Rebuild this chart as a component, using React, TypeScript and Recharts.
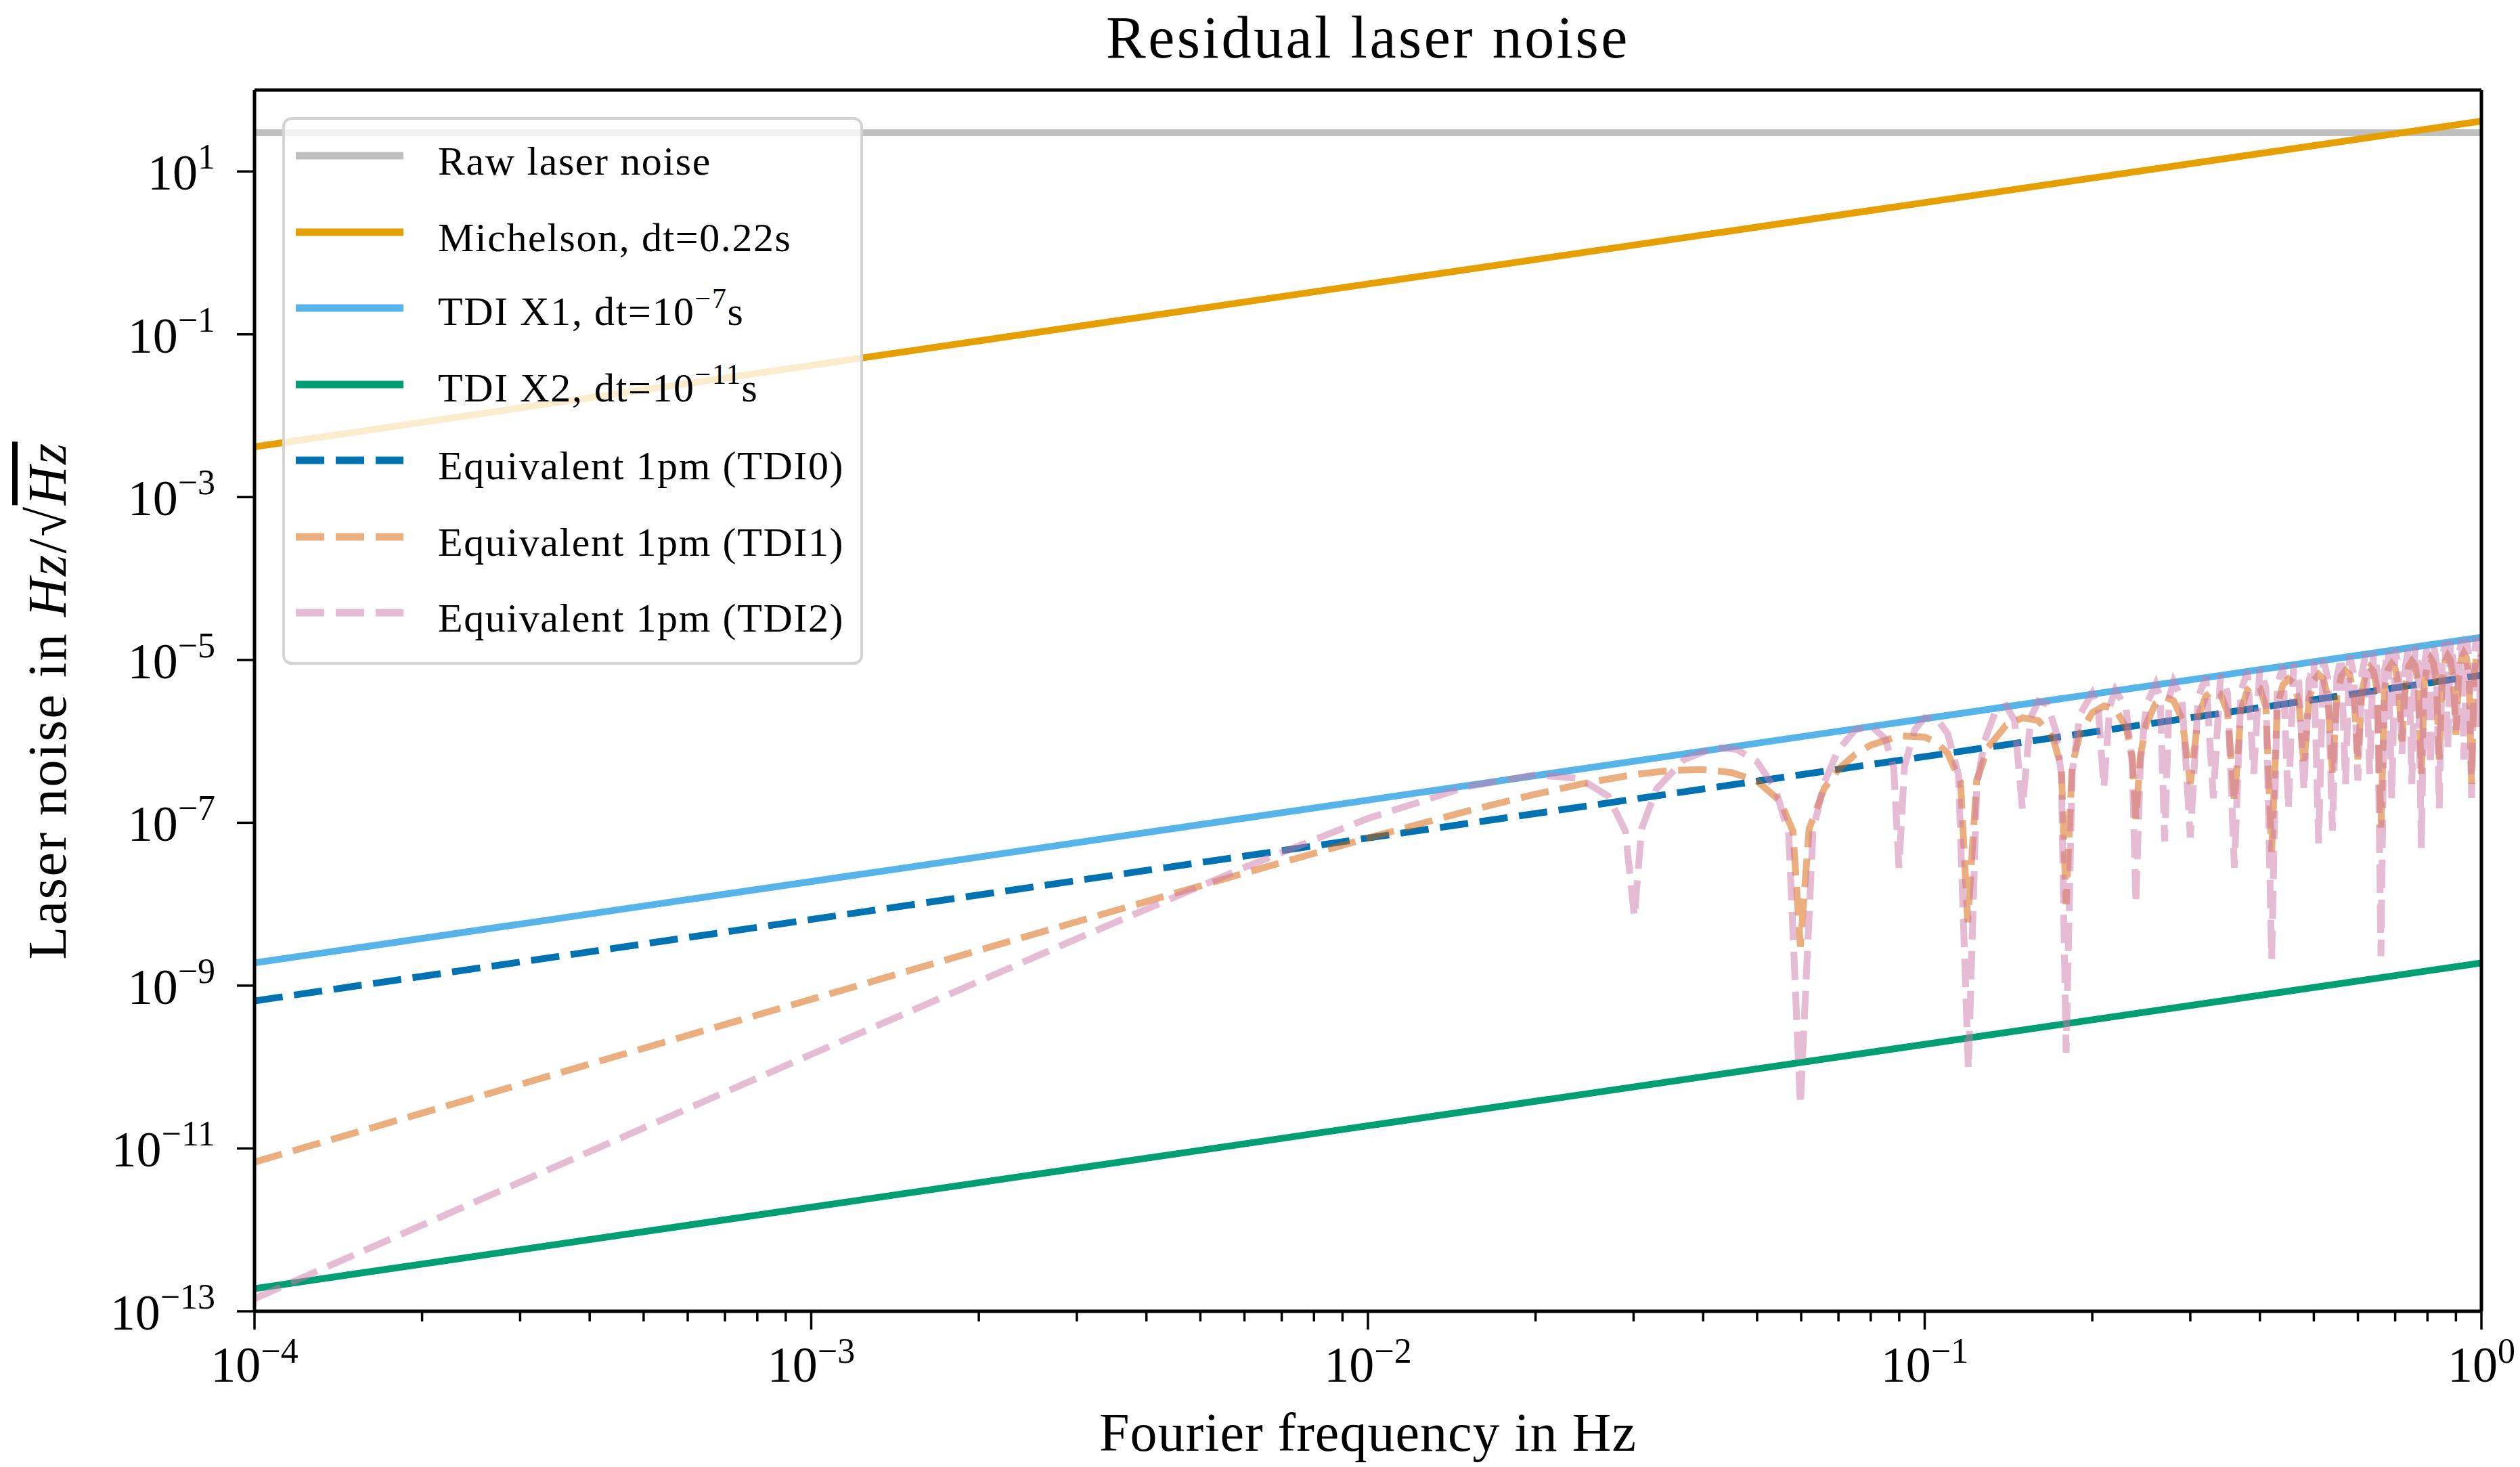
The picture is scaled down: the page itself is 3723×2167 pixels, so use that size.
import React from "react";
import { LineChart, Line, XAxis, YAxis, Legend, ReferenceLine } from "recharts";

const W = 3723;
const H = 2167;
const FONT = '"Liberation Serif", "DejaVu Serif", serif';

// straight power laws, read at the two ends of the frequency axis
const edgeFreqs = [1e-4, 1];
const rawNoise = [30, 30];
const michelson = [4.15e-3, 41.5];
const tdiX1 = [1.9e-9, 1.9e-5];
const tdiX2 = [1.9e-13, 1.9e-9];
const equivTdi0 = [6.5e-10, 6.5e-6];

const tdi1Freqs = [
  0.0001, 0.001, 0.003, 0.006, 0.01, 0.015, 0.02, 0.025, 0.03, 0.035,
  0.04, 0.045, 0.05, 0.055, 0.058, 0.0598, 0.062, 0.066, 0.07, 0.075,
  0.08, 0.09, 0.1, 0.105, 0.11, 0.116, 0.1195, 0.124, 0.13, 0.14,
  0.15, 0.16, 0.17, 0.176, 0.1795, 0.184, 0.19, 0.2, 0.21, 0.22,
  0.23, 0.236, 0.2395, 0.244, 0.25, 0.26, 0.27, 0.28, 0.29, 0.3,
  0.31, 0.32, 0.33, 0.34, 0.35, 0.36, 0.37, 0.38, 0.39, 0.4,
  0.41, 0.42, 0.43, 0.44, 0.45, 0.46, 0.47, 0.48, 0.49, 0.5,
  0.51, 0.52, 0.53, 0.54, 0.55, 0.56, 0.57, 0.58, 0.59, 0.6,
  0.61, 0.62, 0.63, 0.64, 0.65, 0.66, 0.67, 0.68, 0.69, 0.7,
  0.71, 0.72, 0.73, 0.74, 0.75, 0.76, 0.77, 0.78, 0.79, 0.8,
  0.81, 0.82, 0.83, 0.84, 0.85, 0.86, 0.87, 0.88, 0.89, 0.9,
  0.91, 0.92, 0.93, 0.94, 0.95, 0.96, 0.97, 0.98, 0.99, 1.0,
];
const equivTdi1 = [
  6.8e-12, 6.8e-10, 6.1e-9, 2.41e-8, 6.5e-8, 1.38e-7, 2.25e-7, 3.14e-7, 3.9e-7, 4.39e-7,
  4.5e-7, 4.14e-7, 3.25e-7, 1.85e-7, 7.9e-8, 3e-9, 8.4e-8, 2.65e-7, 4.55e-7, 6.9e-7,
  9.0e-7, 1.17e-6, 1.13e-6, 9.65e-7, 7.15e-7, 3.14e-7, 6e-9, 3.35e-7, 8.45e-7, 1.58e-6,
  1.95e-6, 1.8e-6, 1.1e-6, 4.76e-7, 1e-8, 4.97e-7, 1.24e-6, 2.25e-6, 2.73e-6, 2.48e-6,
  1.5e-6, 6.4e-7, 1.1e-7, 6.6e-7, 1.63e-6, 2.93e-6, 3.51e-6, 3.15e-6, 1.89e-6, 3e-7,
  2.02e-6, 3.6e-6, 4.29e-6, 3.83e-6, 2.28e-6, 1.8e-7, 2.41e-6, 4.28e-6, 5.07e-6, 4.5e-6,
  2.67e-6, 4.4e-8, 2.8e-6, 4.95e-6, 5.85e-6, 5.18e-6, 3.06e-6, 5e-7, 3.19e-6, 5.63e-6,
  6.63e-6, 5.86e-6, 3.45e-6, 4e-7, 3.58e-6, 6.31e-6, 7.41e-6, 6.53e-6, 3.84e-6, 6e-7,
  3.97e-6, 6.98e-6, 8.19e-6, 7.21e-6, 4.23e-6, 8.7e-8, 4.36e-6, 7.66e-6, 8.97e-6, 7.88e-6,
  4.62e-6, 1e-6, 4.75e-6, 8.33e-6, 9.75e-6, 8.56e-6, 5.01e-6, 4e-7, 5.14e-6, 9.01e-6,
  1.05e-5, 9.23e-6, 5.4e-6, 6e-7, 5.53e-6, 9.68e-6, 1.13e-5, 9.91e-6, 5.79e-6, 1.2e-6,
  5.92e-6, 1.04e-5, 1.21e-5, 1.06e-5, 6.18e-6, 3e-7, 6.31e-6, 1.1e-5, 1.29e-5, 1.13e-5,
];

const tdi2Freqs = [
  0.0001, 0.001, 0.003, 0.006, 0.01, 0.015, 0.02, 0.024, 0.027, 0.029,
  0.0301, 0.031, 0.033, 0.037, 0.042, 0.046, 0.05, 0.054, 0.057, 0.0598,
  0.063, 0.066, 0.07, 0.075, 0.08, 0.085, 0.088, 0.0899, 0.092, 0.096,
  0.1, 0.105, 0.11, 0.115, 0.1198, 0.124, 0.128, 0.134, 0.14, 0.145,
  0.1498, 0.155, 0.16, 0.166, 0.172, 0.176, 0.1795, 0.184, 0.19, 0.2,
  0.205, 0.2098, 0.215, 0.22, 0.23, 0.236, 0.2395, 0.244, 0.25, 0.26,
  0.265, 0.2698, 0.275, 0.28, 0.29, 0.3,
  0.31, 0.32, 0.33, 0.34, 0.35, 0.36, 0.37, 0.38, 0.39, 0.4,
  0.41, 0.42, 0.43, 0.44, 0.45, 0.46, 0.47, 0.48, 0.49, 0.5,
  0.51, 0.52, 0.53, 0.54, 0.55, 0.56, 0.57, 0.58, 0.59, 0.6,
  0.61, 0.62, 0.63, 0.64, 0.65, 0.66, 0.67, 0.68, 0.69, 0.7,
  0.71, 0.72, 0.73, 0.74, 0.75, 0.76, 0.77, 0.78, 0.79, 0.8,
  0.81, 0.82, 0.83, 0.84, 0.85, 0.86, 0.87, 0.88, 0.89, 0.9,
  0.91, 0.92, 0.93, 0.94, 0.95, 0.96, 0.97, 0.98, 0.99, 1.0,
];
const equivTdi2 = [
  1.43e-13, 1.43e-10, 3.77e-9, 2.83e-8, 1.13e-7, 2.76e-7, 3.9e-7, 3.49e-7, 2.14e-7, 7.9e-8,
  7e-9, 8.4e-8, 2.62e-7, 6.0e-7, 8.4e-7, 7.96e-7, 5.63e-7, 2.55e-7, 7.16e-8, 3.4e-11,
  7.9e-8, 3.12e-7, 7.9e-7, 1.38e-6, 1.56e-6, 1.07e-6, 4.73e-7, 2.8e-8, 4.95e-7, 1.4e-6,
  1.95e-6, 1.93e-6, 1.24e-6, 3.87e-7, 9.5e-11, 2.73e-7, 1.0e-6, 2.32e-6, 2.73e-6, 1.82e-6,
  1.5e-7, 1.95e-6, 3.12e-6, 2.87e-6, 1.35e-6, 3.87e-7, 1.5e-10, 4.04e-7, 2.14e-6, 3.9e-6,
  2.57e-6, 2.7e-7, 2.7e-6, 4.29e-6, 2.59e-6, 5.19e-7, 1e-8, 5.36e-7, 2.81e-6, 5.07e-6,
  3.33e-6, 5.9e-8, 3.45e-6, 5.46e-6, 3.26e-6, 6.6e-8,
  3.49e-6, 6.24e-6, 2e-7, 6.63e-6, 3.94e-6, 2.8e-8, 4.17e-6, 7.41e-6, 4e-7, 7.8e-6,
  4.62e-6, 2.1e-9, 4.84e-6, 8.58e-6, 1.5e-7, 8.97e-6, 5.29e-6, 2.5e-7, 5.52e-6, 9.75e-6,
  5.6e-8, 1.01e-5, 5.97e-6, 8e-8, 6.19e-6, 1.09e-5, 3e-7, 1.13e-5, 6.64e-6, 3.3e-7,
  6.87e-6, 1.21e-5, 4e-7, 1.25e-5, 7.32e-6, 2.3e-9, 7.54e-6, 1.33e-5, 2e-7, 1.37e-5,
  7.99e-6, 7e-7, 8.22e-6, 1.44e-5, 3e-7, 1.48e-5, 8.67e-6, 4.9e-8, 8.9e-6, 1.56e-5,
  5e-7, 1.6e-5, 9.35e-6, 1.5e-7, 9.57e-6, 1.68e-5, 8e-7, 1.72e-5, 1.0e-5, 1.3e-6,
  1.02e-5, 1.79e-5, 6e-7, 1.83e-5, 1.07e-5, 2e-7, 1.09e-5, 1.91e-5, 1.5e-6, 1.95e-5,
];

const xMajorTicks = [1e-4, 1e-3, 1e-2, 1e-1, 1];
const xMinorSteps = [2, 3, 4, 5, 6, 7, 8, 9];
const xTicks = [
  ...xMajorTicks,
  ...xMajorTicks.slice(0, 4).flatMap((d) => xMinorSteps.map((m) => m * d)),
].sort((a, b) => a - b);
const yTicks = [1e1, 1e-1, 1e-3, 1e-5, 1e-7, 1e-9, 1e-11, 1e-13];

const zip = (fs: number[], vs: number[]) => fs.map((f, i) => ({ f, v: vs[i] }));

const Sup = ({ children }: { children: React.ReactNode }) => (
  <span style={{ fontSize: "0.7em", position: "relative", top: "-0.6em" }}>{children}</span>
);

const SERIES = [
  { key: "raw", data: zip(edgeFreqs, rawNoise), color: "#bfbfbf", opacity: 1, dash: undefined, label: <>Raw laser noise</> },
  { key: "mich", data: zip(edgeFreqs, michelson), color: "#E69F00", opacity: 1, dash: undefined, label: <>Michelson, dt=0.22s</> },
  { key: "x1", data: zip(edgeFreqs, tdiX1), color: "#56B4E9", opacity: 1, dash: undefined, label: <>TDI X1, dt=10<Sup>−7</Sup>s</> },
  { key: "x2", data: zip(edgeFreqs, tdiX2), color: "#009E73", opacity: 1, dash: undefined, label: <>TDI X2, dt=10<Sup>−11</Sup>s</> },
  { key: "eq0", data: zip(edgeFreqs, equivTdi0), color: "#0072B2", opacity: 1, dash: "42 17", label: <>Equivalent 1pm (TDI0)</> },
  { key: "eq1", data: zip(tdi1Freqs, equivTdi1), color: "#D55E00", opacity: 0.5, dash: "42 17", label: <>Equivalent 1pm (TDI1)</> },
  { key: "eq2", data: zip(tdi2Freqs, equivTdi2), color: "#CC79A7", opacity: 0.5, dash: "42 17", label: <>Equivalent 1pm (TDI2)</> },
];

const exponent = (v: number) => {
  const e = Math.round(Math.log10(v));
  return e < 0 ? `−${-e}` : `${e}`;
};

const XTick = (p: any) => {
  const { x, y, payload } = p;
  const lg = Math.log10(payload.value);
  const major = Math.abs(lg - Math.round(lg)) < 1e-6;
  return (
    <g>
      <line x1={x} x2={x} y1={y} y2={y + (major ? 27 : 15)} stroke="#000" strokeWidth={3.5} />
      {major && (
        <text x={x} y={y + 104} textAnchor="middle" fontFamily={FONT} fontSize={74} fill="#000">
          10<tspan dy={-28} fontSize={52}>{exponent(payload.value)}</tspan>
        </text>
      )}
    </g>
  );
};

const YTick = (p: any) => {
  const { x, y, payload } = p;
  return (
    <g>
      <line x1={x - 26} x2={x} y1={y} y2={y} stroke="#000" strokeWidth={3.5} />
      <text x={x - 58} y={y + 27} textAnchor="end" fontFamily={FONT} fontSize={74} fill="#000">
        10<tspan dy={-31} fontSize={52}>{exponent(payload.value)}</tspan>
      </text>
    </g>
  );
};

const XLabel = (p: any) => {
  const { x, y, width } = p.viewBox;
  return (
    <text
      x={x + width / 2}
      y={y + 206}
      textAnchor="middle"
      fontFamily={FONT}
      fontSize={80}
      letterSpacing={1}
      fill="#000"
    >
      Fourier frequency in Hz
    </text>
  );
};

const YLabel = (p: any) => {
  const { x, y, height } = p.viewBox;
  return (
    <text
      transform={`translate(${x + 97}, ${y + height / 2}) rotate(-90)`}
      textAnchor="middle"
      fontFamily={FONT}
      fontSize={80}
      letterSpacing={2.5}
      fill="#000"
    >
      Laser noise in <tspan fontStyle="italic">Hz</tspan>/√
      <tspan fontStyle="italic" style={{ textDecoration: "overline" }}>Hz</tspan>
    </text>
  );
};

const LegendBox = () => (
  <div
    style={{
      position: "relative",
      width: "100%",
      height: "100%",
      boxSizing: "border-box",
      border: "4px solid #d4d4d4",
      borderRadius: 14,
      background: "rgba(255,255,255,0.8)",
      fontFamily: FONT,
      fontSize: 60,
      letterSpacing: 1.6,
      color: "#000",
    }}
  >
    {SERIES.map((s, i) => (
      <div
        key={s.key}
        style={{ position: "absolute", left: 0, top: 53 + i * 112.5 - 50, height: 100, width: "100%" }}
      >
        <svg width={180} height={100} style={{ position: "absolute", left: 0, top: 0 }}>
          <line
            x1={16}
            x2={175}
            y1={50}
            y2={50}
            stroke={s.color}
            strokeOpacity={s.opacity}
            strokeWidth={11}
            strokeDasharray={s.dash}
          />
        </svg>
        <div
          style={{
            position: "absolute",
            left: 226,
            top: 58,
            lineHeight: "60px",
            transform: "translateY(-50%)",
            whiteSpace: "nowrap",
          }}
        >
          {s.label}
        </div>
      </div>
    ))}
  </div>
);

export default function App() {
  return (
    <div style={{ position: "absolute", left: 0, top: 0, width: W, height: H, background: "#fff", fontFamily: FONT }}>
      <div
        style={{
          position: "absolute",
          left: 376,
          width: 3290,
          top: 12,
          textAlign: "center",
          fontSize: 88,
          letterSpacing: 3.5,
          lineHeight: "88px",
          color: "#000",
        }}
      >
        Residual laser noise
      </div>
      <LineChart width={W} height={H} margin={{ top: 133, right: 57, bottom: 0, left: 0 }}>
        <XAxis
          dataKey="f"
          type="number"
          scale="log"
          domain={[1e-4, 1]}
          allowDataOverflow
          ticks={xTicks}
          interval={0}
          height={230}
          tickLine={false}
          tickSize={0}
          tickMargin={0}
          tick={<XTick />}
          axisLine={{ stroke: "#000", strokeWidth: 5 }}
          label={{ content: <XLabel /> }}
        />
        <YAxis
          type="number"
          scale="log"
          domain={[1e-13, 100]}
          allowDataOverflow
          ticks={yTicks}
          interval={0}
          width={376}
          tickLine={false}
          tickSize={0}
          tickMargin={0}
          tick={<YTick />}
          axisLine={{ stroke: "#000", strokeWidth: 5 }}
          label={{ content: <YLabel /> }}
        />
        {SERIES.map((s) => (
          <Line
            key={s.key}
            data={s.data}
            dataKey="v"
            name={s.key}
            type="linear"
            stroke={s.color}
            strokeOpacity={s.opacity}
            strokeWidth={10}
            strokeDasharray={s.dash}
            dot={false}
            activeDot={false}
            isAnimationActive={false}
          />
        ))}
        <ReferenceLine y={100} stroke="#000" strokeWidth={5} />
        <ReferenceLine x={1} stroke="#000" strokeWidth={5} />
        <Legend
          layout="vertical"
          align="center"
          verticalAlign="middle"
          wrapperStyle={{ left: 417, top: 173, width: 858, height: 809 }}
          content={<LegendBox />}
        />
      </LineChart>
    </div>
  );
}
